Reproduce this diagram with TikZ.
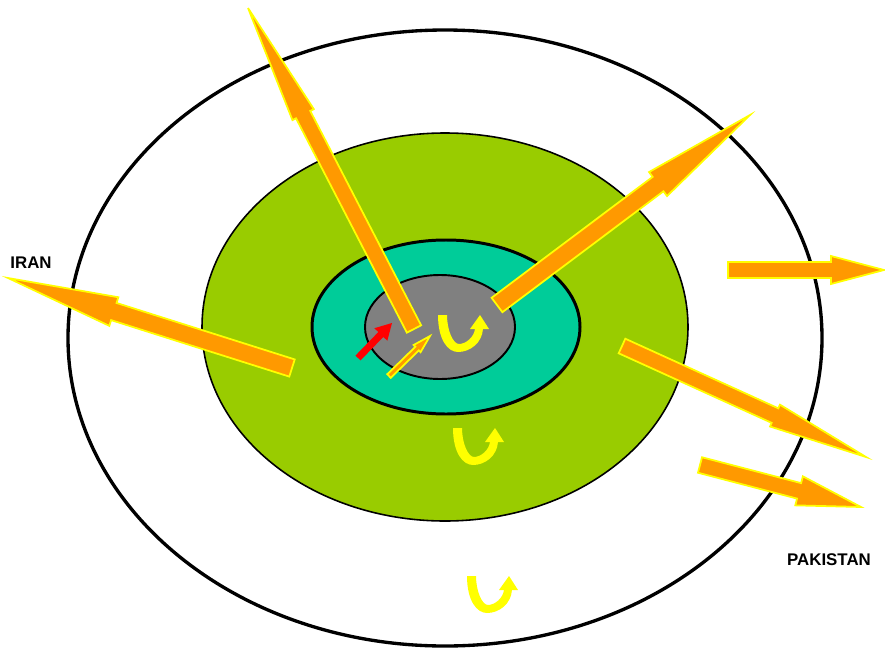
\documentclass[tikz,border=0pt]{standalone}
\usepackage{fontspec}
\setmainfont{Liberation Sans}
\definecolor{ogreen}{RGB}{153,204,0}
\definecolor{oteal}{RGB}{0,204,153}
\definecolor{ogray}{RGB}{128,128,128}
\definecolor{oorange}{RGB}{255,153,0}
\definecolor{oyellow}{RGB}{255,255,0}
\definecolor{ored}{RGB}{255,0,0}
\tikzset{
  orangearrow/.style={fill=oorange, draw=oyellow, line width=1pt, line join=miter},
  redarrow/.style={fill=ored, draw=none},
  ring/.style={draw=black},
  lbl/.style={font=\bfseries\fontsize{9.6}{11}\selectfont, text=black, inner sep=0pt}
}
% block arrow: x1 y1 x2 y2 (pixels, y down), shaft half width, head half width, head length, style
\newcommand\blockarrow[8]{%
  \pgfmathsetmacro\bAx{#1}%
  \pgfmathsetmacro\bAy{647-#2}%
  \pgfmathsetmacro\bDx{#3-#1}%
  \pgfmathsetmacro\bDy{#2-#4}%
  \pgfmathsetmacro\bAng{atan2(\bDy,\bDx)}%
  \pgfmathsetmacro\bLen{veclen(\bDx,\bDy)}%
  \pgfmathsetmacro\bBase{\bLen-#7}%
  \begin{scope}[shift={(\bAx,\bAy)},rotate=\bAng]
    \draw[#8] (0,-#5) -- (\bBase,-#5) -- (\bBase,-#6) -- (\bLen,0) -- (\bBase,#6) -- (\bBase,#5) -- (0,#5) -- cycle;
  \end{scope}}
% yellow U-turn arrow with top-left corner at pixel (x,y)
\newcommand\uturn[2]{%
  \fill[oyellow, shift={(#1,{647-#2})}, yscale=-1]
    (0,0) .. controls (0,25) and (10,37) .. (20,37)
    .. controls (32,37) and (44,28) .. (45,14) -- (51,14) -- (42,0) -- (32,14) -- (37,14)
    .. controls (36,22) and (28,29) .. (21,29)
    .. controls (15,29) and (9,15) .. (9,0) -- cycle;}
\begin{document}
\begin{tikzpicture}[x=0.02cm,y=0.02cm]
\useasboundingbox (0,0) rectangle (885,647);
% rings
\draw[ring, fill=white, line width=1.9pt] (445,309) ellipse [x radius=377, y radius=308];
\draw[ring, fill=ogreen, line width=0.9pt] (445,320) ellipse [x radius=243, y radius=194];
\draw[ring, fill=oteal, line width=1.7pt] (446,320) ellipse [x radius=134, y radius=87];
\draw[ring, fill=ogray, line width=1.1pt] (440,320) ellipse [x radius=75, y radius=52];
% U-turn arrows
\uturn{438}{315}
\uturn{453}{428}
\uturn{467}{576}
% orange arrows
\blockarrow{414}{329}{248}{8}{8}{12}{120}{orangearrow}
\blockarrow{497}{305}{750}{115}{9}{15}{115}{orangearrow}
\blockarrow{292}{368}{8}{278}{9}{15}{111}{orangearrow}
\blockarrow{728}{270}{884}{270}{8}{14}{53}{orangearrow}
\blockarrow{622}{346}{866}{457}{8}{12}{100}{orangearrow}
\blockarrow{700}{465}{861}{507}{8}{15}{64}{orangearrow}
\blockarrow{389}{376}{430}{336}{2.5}{5}{18}{orangearrow}
\blockarrow{358}{358}{392}{323}{3.5}{9}{16}{redarrow}
% labels
\node[lbl] (iran) at (31,{647-263}) {IRAN};
\node[lbl] (pak) at (829,{647-560}) {PAKISTAN};
\end{tikzpicture}
\end{document}
